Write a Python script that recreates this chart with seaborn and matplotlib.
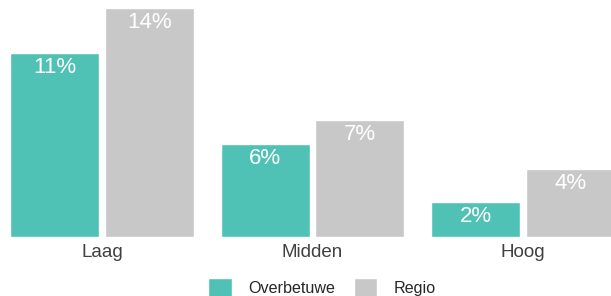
import pandas as pd
import matplotlib
matplotlib.use("Agg")
import matplotlib.pyplot as plt
from matplotlib.patches import Patch
import seaborn as sns

# data (percent)
categories = ["Laag", "Midden", "Hoog"]
overbetuwe = [11.1, 5.6, 2.1]
regio = [13.8, 7.05, 4.1]
series_names = ["Overbetuwe", "Regio"]
value_labels = {"Overbetuwe": ["11%", "6%", "2%"], "Regio": ["14%", "7%", "4%"]}

teal = "#50C2B5"
grey = "#C8C8C8"

df = pd.DataFrame({
    "niveau": categories * 2,
    "pct": overbetuwe + regio,
    "gebied": [series_names[0]] * 3 + [series_names[1]] * 3,
})

sns.set_style("white")
plt.rcParams["font.family"] = ["Liberation Sans", "DejaVu Sans"]

fig = plt.figure(figsize=(6.11, 2.96), dpi=100)
ax = fig.add_axes([0, 0.1993, 1, 0.8007])

sns.barplot(data=df, x="niveau", y="pct", hue="gebied", palette=[teal, grey],
            width=0.9, gap=0.06, ax=ax, legend=False, saturation=1)

ax.set_xlim(-0.4846, 2.418)
ax.set_ylim(0, 14.28)

for cont, name in zip(ax.containers, series_names):
    texts = ax.bar_label(cont, labels=value_labels[name], padding=-3,
                         color="white", fontsize=16)
    for t in texts:
        t.set_va("top")

sns.despine(ax=ax, left=True, bottom=True)
ax.set_yticks([])
ax.set_xlabel("")
ax.set_ylabel("")
ax.tick_params(axis="x", length=0, pad=5, labelsize=13.5, labelcolor="#404040")

handles = [Patch(facecolor=teal, label=series_names[0]),
           Patch(facecolor=grey, label=series_names[1])]
fig.legend(handles=handles, loc="center", bbox_to_anchor=(0.527, 0.027), ncol=2,
           frameon=False, fontsize=11.6, handlelength=1.45, handleheight=1.45,
           columnspacing=1.2, handletextpad=1.0)

fig.savefig("out.png", dpi=100)
